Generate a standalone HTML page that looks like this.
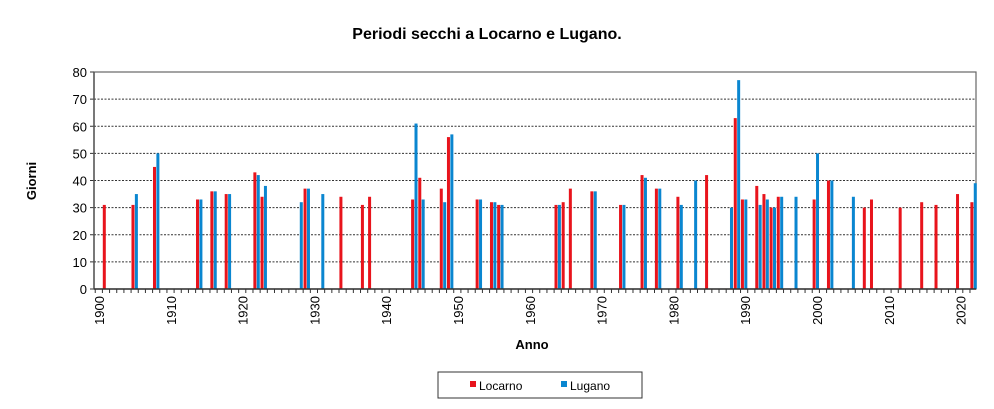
<!DOCTYPE html>
<html><head><meta charset="utf-8"><style>
body{margin:0;background:#fff;width:994px;height:404px;overflow:hidden;font-family:"Liberation Sans",Arial,sans-serif}
</style></head><body>
<svg id="chart" width="994" height="404" xmlns="http://www.w3.org/2000/svg" font-family="Liberation Sans, Arial, sans-serif">
<text x="487" y="39" text-anchor="middle" font-size="16" font-weight="bold">Periodi secchi  a Locarno e Lugano.</text>
<text transform="translate(36,181) rotate(-90)" text-anchor="middle" font-size="13" font-weight="bold">Giorni</text>
<text x="532" y="349" text-anchor="middle" font-size="13" font-weight="bold">Anno</text>
<g id="grid"></g>
<g id="bars"></g>
<g id="axes"></g>
<g>
<rect x="438" y="372" width="204" height="26" fill="#fff" stroke="#333" stroke-width="1"/>
<rect x="470" y="381" width="6" height="6" fill="#e8141c"/>
<text x="479" y="390" font-size="12">Locarno</text>
<rect x="561" y="381" width="6" height="6" fill="#0a86d0"/>
<text x="570" y="390" font-size="12">Lugano</text>
</g>
</svg>
<script>
const locarnoYears=[1900,1904,1907,1913,1915,1917,1921,1922,1928,1933,1936,1937,1943,1944,1947,1948,1952,1954,1955,1963,1964,1965,1968,1972,1975,1977,1980,1984,1988,1989,1991,1992,1993,1994,1999,2001,2006,2007,2011,2014,2016,2019,2021];
const locarnoValues=[31,31,45,33,36,35,43,34,37,34,31,34,33,41,37,56,33,32,31,31,32,37,36,31,42,37,34,42,63,33,38,35,30,34,33,40,30,33,30,32,31,35,32];
const luganoYears=[1904,1907,1913,1915,1917,1921,1922,1927,1928,1930,1943,1944,1947,1948,1952,1954,1955,1963,1968,1972,1975,1977,1980,1982,1987,1988,1989,1991,1992,1993,1994,1996,1999,2001,2004,2021];
const luganoValues=[35,50,33,36,35,42,38,32,37,35,61,33,32,57,33,32,31,31,36,31,41,37,31,40,30,77,33,31,33,30,34,34,50,40,34,39];
const yTicks=[0,10,20,30,40,50,60,70,80];
const xTickLabels=[1900,1910,1920,1930,1940,1950,1960,1970,1980,1990,2000,2010,2020];
const NS="http://www.w3.org/2000/svg";
const L=94,R=976,T=72,B=289,yMax=80;
const yS=v=>B-(v/yMax)*(B-T);
const xS=y=>106+(y-1900)*7.17;
function mk(tag,attrs,parent){const e=document.createElementNS(NS,tag);for(const k in attrs)e.setAttribute(k,attrs[k]);parent.appendChild(e);return e;}
const grid=document.getElementById('grid'),bars=document.getElementById('bars'),axes=document.getElementById('axes');
mk('rect',{x:L,y:T,width:R-L,height:B-T,fill:'#fff',stroke:'#666','stroke-width':1.2},grid);
yTicks.forEach(v=>{
  if(v>0&&v<yMax){const g=mk('line',{x1:L,x2:R,y1:yS(v),y2:yS(v),stroke:'#333','stroke-width':1,'stroke-dasharray':'2,1.5'},grid);
  
  }
  const t=mk('text',{x:L-7,y:yS(v)+5,'text-anchor':'end','font-size':13},axes);
  t.textContent=v;
  
  
  mk('line',{x1:L-4,x2:L,y1:yS(v),y2:yS(v),stroke:'#333'},axes);
});
locarnoYears.forEach((yr,i)=>{
  const r=mk('rect',{x:xS(yr)-3.2,y:yS(locarnoValues[i]),width:3,height:B-yS(locarnoValues[i]),fill:'#e8141c'},bars);
  
  
});
luganoYears.forEach((yr,i)=>{
  const r=mk('rect',{x:xS(yr)+0.2,y:yS(luganoValues[i]),width:3,height:B-yS(luganoValues[i]),fill:'#0a86d0'},bars);
  
  
});
mk('line',{x1:L,x2:L,y1:T,y2:B,stroke:'#555','stroke-width':1.5},axes);
mk('line',{x1:L,x2:R,y1:B,y2:B,stroke:'#333','stroke-width':1.5},axes);
for(let yr=1899;yr<=2022;yr++){const x=xS(yr)-3.6;if(x>=L&&x<=R)mk('line',{x1:x,x2:x,y1:B,y2:B+4,stroke:'#333'},axes);}
xTickLabels.forEach(yr=>{
  const x=100+(yr-1900)*7.18;
  const t=mk('text',{transform:`translate(${x+4},${B+7}) rotate(-90)`,'text-anchor':'end','font-size':13},axes);
  t.textContent=yr;
  
  
});
</script>
</body></html>
